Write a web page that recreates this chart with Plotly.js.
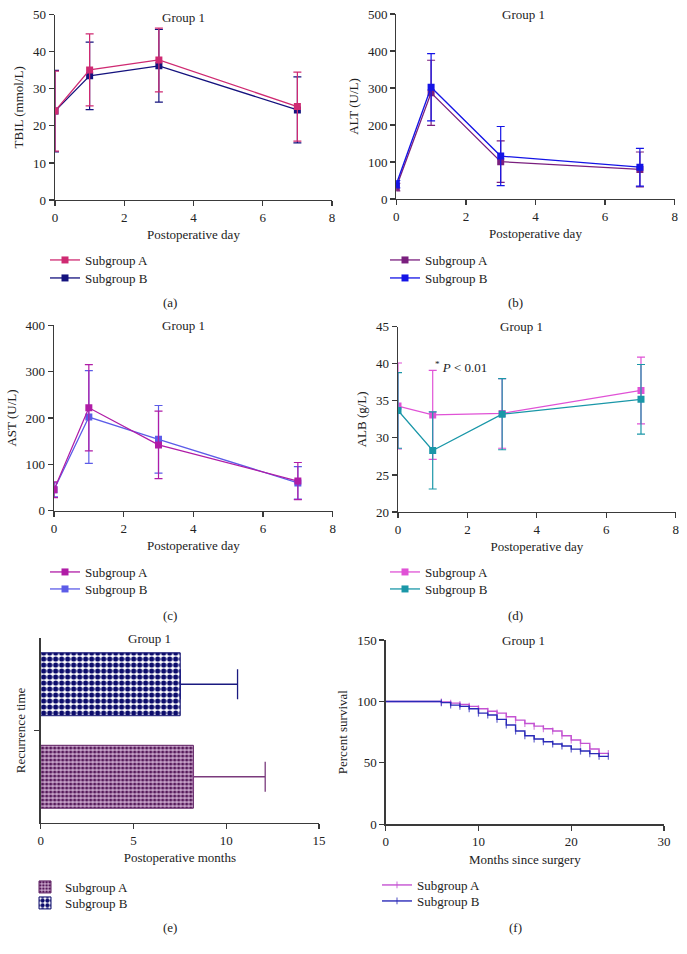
<!DOCTYPE html>
<html><head><meta charset="utf-8">
<script src="https://cdn.plot.ly/plotly-3.0.1.min.js"></script>
<style>html,body{margin:0;padding:0;background:#fff}#chart{width:687px;height:954px}</style>
</head><body><div id="chart"></div>
<script>
// ---- data ----
const days = [0, 1, 3, 7];
const groups = ['Subgroup A', 'Subgroup B'];

const tbilA = [24.0, 35.1, 37.8, 25.2];
const tbilA_sd = [10.8, 9.7, 8.6, 9.3];
const tbilB = [24.0, 33.5, 36.2, 24.3];
const tbilB_sd = [11.0, 9.1, 9.8, 8.9];

const altA = [32, 287, 101, 80];
const altA_sd = [10, 88, 56, 47];
const altB = [40, 302, 116, 86];
const altB_sd = [10, 91, 80, 51];

const astA = [45, 222, 142, 64];
const astA_sd = [17, 93, 73, 40];
const astB = [45, 202, 154, 60];
const astB_sd = [15, 100, 73, 35];

const albA = [34.3, 33.1, 33.3, 36.4];
const albA_sd = [5.8, 6.0, 4.7, 4.5];
const albB = [33.7, 28.3, 33.2, 35.2];
const albB_sd = [5.1, 5.2, 4.8, 4.7];

const recurMean = [8.23, 7.52];
const recurSD = [3.87, 3.09];

const survMonths = [0, 6, 7, 8, 9, 10, 11, 12, 13, 14, 15, 16, 17, 18, 19, 20, 21, 22, 23, 24];
const survA = [100, 99.5, 98.6, 97.5, 96, 94, 92, 90.5, 87.5, 84.8, 82, 79.9, 77.8, 75.9, 72.1, 68.6, 65.9, 61.3, 57.7, 57.7];
const survB = [100, 99, 97, 96, 94, 90.5, 88.9, 85.4, 80.8, 75.9, 72.1, 69.4, 67.2, 65.3, 63.7, 61.2, 59.6, 57.5, 55.3, 55.3];

// ---- helpers ----
const W = 687, H = 954;
const px = v => v / W;
const py = v => 1 - v / H;
const FONT = {family: 'Liberation Serif, Times New Roman, serif', size: 13, color: '#222'};
const AX = '#3a3a3a';

function axis(range, dtick, dom, title, extra) {
  return Object.assign({
    range: range, dtick: dtick, domain: dom, showline: true, linecolor: AX, linewidth: 1.3,
    ticks: 'outside', ticklen: 5, tickwidth: 1.2, tickcolor: AX, showgrid: false, zeroline: false,
    tickfont: FONT, title: {text: title, font: FONT, standoff: 6}, fixedrange: true
  }, extra || {});
}

function lineTrace(y, sd, name, color, xa, ya, leg) {
  return {
    x: days, y: y, name: name, type: 'scatter', mode: 'lines+markers',
    xaxis: xa, yaxis: ya, legend: leg, showlegend: true,
    line: {color: color, width: 1.3},
    marker: {symbol: 'square', size: 7, color: color},
    error_y: {type: 'data', array: sd, visible: true, color: color, thickness: 1.2, width: 4}
  };
}

const traces = [];
// (a)
traces.push(lineTrace(tbilB, tbilB_sd, groups[1], '#14127e', 'x', 'y', 'legend2'));
traces.push(lineTrace(tbilA, tbilA_sd, groups[0], '#cf2a72', 'x', 'y', 'legend'));
// (b)
traces.push(lineTrace(altA, altA_sd, groups[0], '#7a1f7e', 'x2', 'y2', 'legend3'));
traces.push(lineTrace(altB, altB_sd, groups[1], '#1414e6', 'x2', 'y2', 'legend4'));
// (c)
traces.push(lineTrace(astB, astB_sd, groups[1], '#5c5ce8', 'x3', 'y3', 'legend6'));
traces.push(lineTrace(astA, astA_sd, groups[0], '#b01ca6', 'x3', 'y3', 'legend5'));
// (d)
traces.push(lineTrace(albA, albA_sd, groups[0], '#e052d6', 'x4', 'y4', 'legend7'));
traces.push(lineTrace(albB, albB_sd, groups[1], '#1a97a8', 'x4', 'y4', 'legend8'));
// (e)
traces.push({
  type: 'bar', orientation: 'h', x: [recurMean[0]], y: [0], name: groups[0], width: 0.68,
  xaxis: 'x5', yaxis: 'y5', legend: 'legend9',
  marker: {color: '#ffffff', line: {color: '#5e1f62', width: 1},
    pattern: {shape: '.', fgcolor: '#561a5a', bgcolor: '#c8a4ca', size: 4, solidity: 0.5}},
  error_x: {type: 'data', symmetric: false, array: [recurSD[0]], arrayminus: [0], color: '#7a3a7c', thickness: 1.3, width: 15}
});
traces.push({
  type: 'bar', orientation: 'h', x: [recurMean[1]], y: [1], name: groups[1], width: 0.68,
  xaxis: 'x5', yaxis: 'y5', legend: 'legend10',
  marker: {color: '#ffffff', line: {color: '#0e0e6e', width: 1},
    pattern: {shape: '.', fgcolor: '#0c0c6c', bgcolor: '#ffffff', size: 6, solidity: 0.6}},
  error_x: {type: 'data', symmetric: false, array: [recurSD[1]], arrayminus: [0], color: '#1a1a80', thickness: 1.3, width: 15}
});
// (f)
function survTrace(y, name, color, leg) {
  return {
    x: survMonths, y: y, name: name, type: 'scatter', mode: 'lines+markers',
    xaxis: 'x6', yaxis: 'y6', legend: leg,
    line: {color: color, width: 1.4, shape: 'hv'},
    marker: {symbol: 'line-ns', size: survMonths.map((m, i) => i === 0 ? 0 : 5), line: {color: color, width: 1.2}, color: color}
  };
}
traces.push(survTrace(survA, groups[0], '#c452d2', 'legend11'));
traces.push(survTrace(survB, groups[1], '#2a2ab8', 'legend12'));

function legend(xp, yp) {
  return {x: px(xp), y: py(yp), xanchor: 'left', yanchor: 'top', bgcolor: 'rgba(0,0,0,0)',
    font: FONT, tracegroupgap: 0, itemwidth: 30};
}

function ann(text, xp, yp, extra) {
  return Object.assign({text: text, x: px(xp), y: py(yp), xref: 'paper', yref: 'paper',
    showarrow: false, font: FONT, xanchor: 'center', yanchor: 'middle'}, extra || {});
}

const layout = {
  width: W, height: H, margin: {l: 0, r: 0, t: 0, b: 0},
  paper_bgcolor: '#fff', plot_bgcolor: '#fff', font: FONT, showlegend: true,
  xaxis: axis([0, 8], 2, [px(55), px(332)], 'Postoperative day', {anchor: 'y'}),
  yaxis: axis([0, 50], 10, [py(200), py(14.7)], 'TBIL (mmol/L)', {anchor: 'x'}),
  xaxis2: axis([0, 8], 2, [px(396.3), px(674.7)], 'Postoperative day', {anchor: 'y2'}),
  yaxis2: axis([0, 500], 100, [py(199), py(14)], 'ALT (U/L)', {anchor: 'x2'}),
  xaxis3: axis([0, 8], 2, [px(54), px(332.7)], 'Postoperative day', {anchor: 'y3'}),
  yaxis3: axis([0, 400], 100, [py(510.7), py(325.3)], 'AST (U/L)', {anchor: 'x3'}),
  xaxis4: axis([0, 8], 2, [px(398), px(675.7)], 'Postoperative day', {anchor: 'y4'}),
  yaxis4: axis([20, 45], 5, [py(512), py(326.7)], 'ALB (g/L)', {anchor: 'x4'}),
  xaxis5: axis([0, 15], 5, [px(40.7), px(319)], 'Postoperative months', {anchor: 'y5'}),
  yaxis5: axis([-0.5, 1.5], 1, [py(823), py(638)], 'Recurrence time', {anchor: 'x5', tickvals: [0.5], showticklabels: false}),
  xaxis6: axis([0, 30], 10, [px(385.7), px(664)], 'Months since surgery', {anchor: 'y6'}),
  yaxis6: axis([0, 150], 50, [py(824.3), py(640)], 'Percent survival', {anchor: 'x6'}),
  legend: legend(45, 245),
  legend2: legend(45, 263),
  legend3: legend(385, 245),
  legend4: legend(385, 263),
  legend5: legend(45, 557),
  legend6: legend(45, 574),
  legend7: legend(385, 557),
  legend8: legend(385, 574),
  legend9: legend(25, 872),
  legend10: legend(25, 888),
  legend11: legend(377, 870),
  legend12: legend(377, 886),
  annotations: [
    ann('Group 1', 183, 18), ann('Group 1', 523, 15), ann('Group 1', 183, 325),
    ann('Group 1', 521, 326), ann('Group 1', 149, 638), ann('Group 1', 523, 640),
    ann('<sup>*</sup> <i>P</i> &lt; 0.01', 433, 367, {xanchor: 'left'}),
    ann('(a)', 170, 302), ann('(b)', 515, 302),
    ann('(c)', 170, 615), ann('(d)', 515, 615),
    ann('(e)', 170, 927), ann('(f)', 515, 927)
  ]
};

Plotly.newPlot('chart', traces, layout, {displayModeBar: false, staticPlot: true});
</script>
</body></html>
